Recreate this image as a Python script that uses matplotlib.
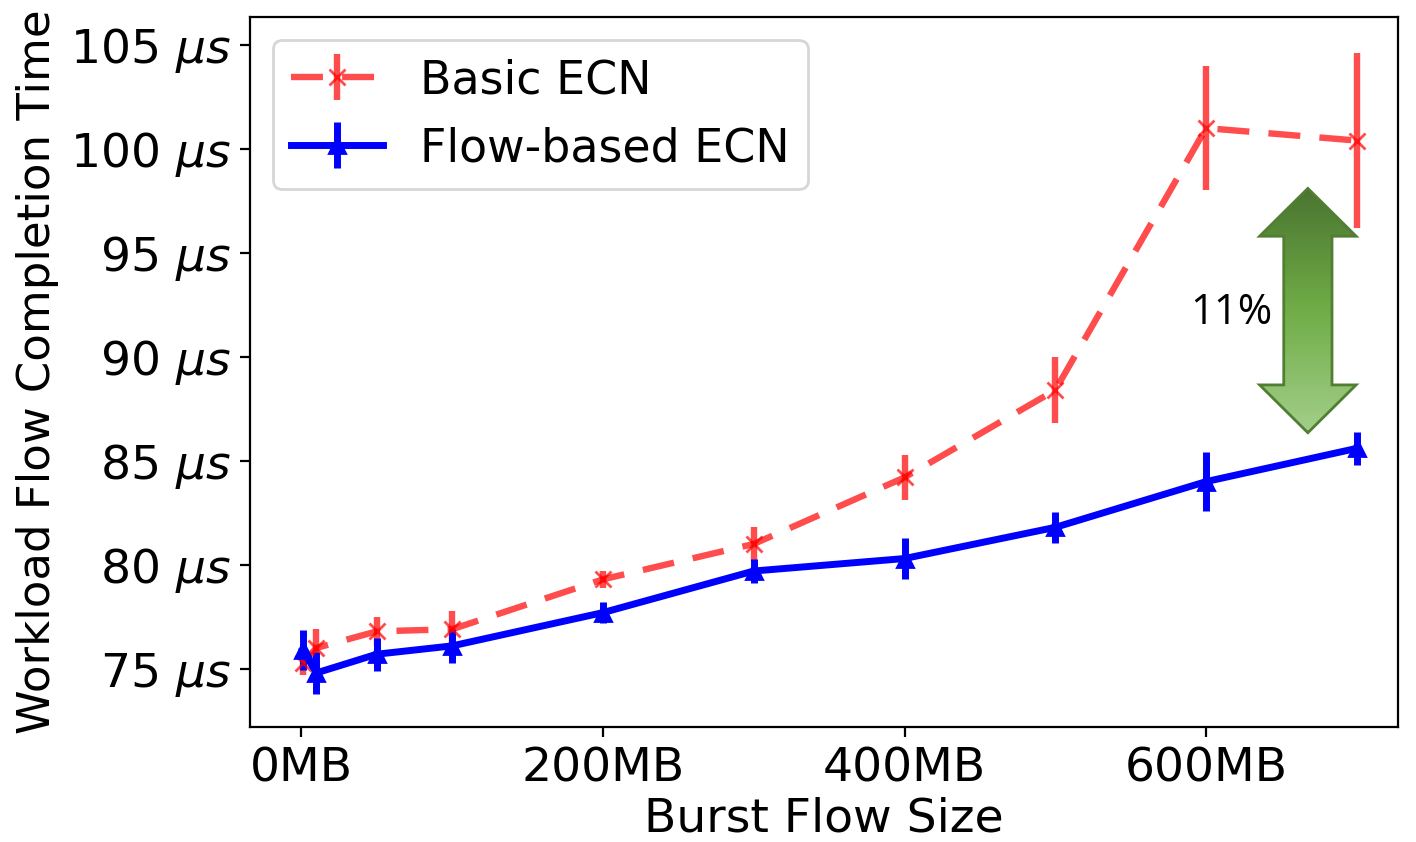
import numpy as np
import matplotlib
matplotlib.use("Agg")
import matplotlib.pyplot as plt
from matplotlib.patches import Polygon

# burst flow size (MB)
burst_sizes = [1, 10, 50, 100, 200, 300, 400, 500, 600, 700]

# Basic ECN
basic_fct = [75.3, 76.0, 76.8, 76.9, 79.3, 81.0, 84.2, 88.4, 101.0, 100.4]
basic_err = [0.6, 0.9, 0.7, 0.9, 0.4, 0.8, 1.1, 1.6, 3.0, 4.2]

# Flow-based ECN
flow_fct = [75.9, 74.8, 75.7, 76.1, 77.7, 79.7, 80.3, 81.8, 84.0, 85.6]
flow_err = [0.95, 1.0, 0.8, 0.8, 0.5, 0.6, 1.0, 0.75, 1.4, 0.8]

xticks = [0, 200, 400, 600]
yticks = [75, 80, 85, 90, 95, 100, 105]

FS = 17

fig = plt.figure(figsize=(7.08, 4.21), dpi=200)
ax = fig.add_axes([0.1766, 0.1366, 0.8104, 0.8434])

ax.errorbar(burst_sizes, basic_fct, yerr=basic_err, color='red', alpha=0.7,
            linestyle='--', linewidth=2.3, marker='x', markersize=6,
            elinewidth=2.3, dashes=(5, 3), label='Basic ECN')
ax.errorbar(burst_sizes, flow_fct, yerr=flow_err, color='blue',
            linestyle='-', linewidth=2.5, marker='^', markersize=6,
            elinewidth=2.5, label='Flow-based ECN')

# green double arrow annotation with gradient fill
ax_c, half_head, half_shaft = 667.5, 32, 16
y_top, y_head1, y_head2, y_bot = 98.1, 95.8, 88.65, 86.35
arrow_pts = [(ax_c, y_top), (ax_c + half_head, y_head1), (ax_c + half_shaft, y_head1),
             (ax_c + half_shaft, y_head2), (ax_c + half_head, y_head2), (ax_c, y_bot),
             (ax_c - half_head, y_head2), (ax_c - half_shaft, y_head2),
             (ax_c - half_shaft, y_head1), (ax_c - half_head, y_head1)]
arrow = Polygon(arrow_pts, closed=True, facecolor='none', edgecolor='#507e32',
                linewidth=1.0, zorder=4)
ax.add_patch(arrow)
cmap = matplotlib.colors.LinearSegmentedColormap.from_list(
    'grn', ['#4a7430', '#70ad47', '#a3cf8a'])
grad = np.linspace(0, 1, 256).reshape(-1, 1)
img = ax.imshow(grad, cmap=cmap, aspect='auto', origin='upper',
                extent=(ax_c - half_head, ax_c + half_head, y_bot, y_top), zorder=3)
img.set_clip_path(arrow)
ax.text(617, 92.1, '11%', fontsize=15, family='Open Sans', ha='center', va='center')

ax.set_xlim(-34, 727)
ax.set_ylim(72.2, 106.35)
ax.set_xticks(xticks)
ax.set_xticklabels([f'{v}MB' for v in xticks], fontsize=FS)
ax.set_yticks(yticks)
ax.set_yticklabels([f'{v} $\\mu s$' for v in yticks], fontsize=FS)
ax.set_xlabel('Burst Flow Size', fontsize=FS, labelpad=2)
ax.set_ylabel('Workload Flow Completion Time', fontsize=16.2, labelpad=4)
ax.tick_params(labelsize=FS)

ax.legend(loc='upper left', fontsize=16.5, handlelength=2.0)

fig.savefig('out.png', dpi=200)
